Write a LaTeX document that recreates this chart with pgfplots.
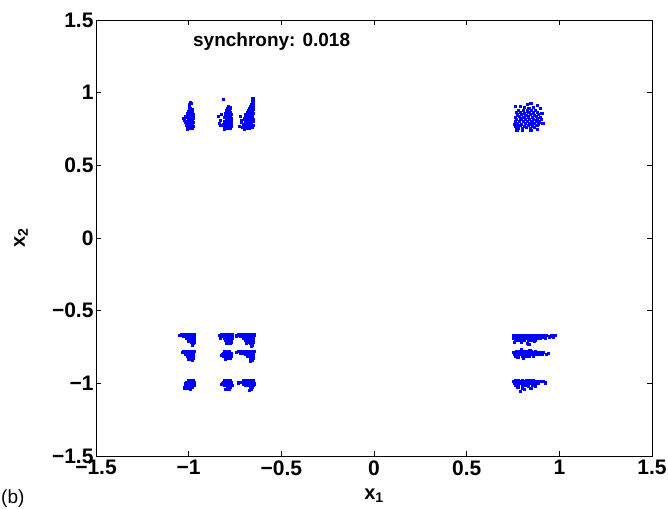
\documentclass[border=0pt]{standalone}
\usepackage{fontspec}
\setmainfont{Liberation Sans}
\usepackage{pgfplots}
\pgfplotsset{compat=1.18}
\pgfplotsset{dots/.style={only marks, mark=square*, mark size=1.1pt, color=blue, mark options={draw=none, fill=blue}}}

\begin{document}
\begin{tikzpicture}
\begin{axis}[
  at={(0,0)}, anchor=south west,
  scale only axis, width=556pt, height=436pt,
  xmin=-1.5, xmax=1.5, ymin=-1.5, ymax=1.5,
  xtick={-1.5,-1,-0.5,0,0.5,1,1.5},
  ytick={-1.5,-1,-0.5,0,0.5,1,1.5},
  xticklabels={−1.5,−1,−0.5,0,0.5,1,1.5},
  yticklabels={−1.5,−1,−0.5,0,0.5,1,1.5},
  tick align=inside, major tick length=5pt,
  axis line style={black, line width=0.9pt},
  every tick/.style={black, line width=0.6pt},
  ticklabel style={font=\fontsize{21}{23}\selectfont\bfseries},
  xticklabel style={yshift=-1pt},
  yticklabel style={xshift=1pt},
  xlabel={x\textsubscript{1}},
  ylabel={x\textsubscript{2}},
  xlabel style={font=\fontsize{20}{22}\selectfont\bfseries, at={(axis description cs:0.5,-0.1)}, anchor=base},
  ylabel style={font=\fontsize{20}{22}\selectfont\bfseries, at={(axis description cs:-0.128,0.5)}, anchor=base},
  clip=false,
]
% top row, x1 < 0
\addplot[dots] coordinates {
(-1.010,0.752)(-0.995,0.755)(-0.980,0.758)
(-1.005,0.765)(-0.988,0.768)(-0.976,0.772)
(-1.012,0.778)(-0.997,0.781)(-0.983,0.784)
(-1.003,0.791)(-0.990,0.794)(-0.977,0.797)
(-1.009,0.804)(-0.994,0.807)(-0.981,0.810)
(-1.001,0.817)(-0.986,0.820)(-0.975,0.823)
(-1.011,0.830)(-0.996,0.833)(-0.982,0.836)
(-1.004,0.843)(-0.989,0.846)(-0.978,0.849)
(-1.008,0.856)(-0.993,0.859)(-0.980,0.862)
(-1.000,0.869)(-0.987,0.872)
(-0.995,0.880)(-0.983,0.885)
(-0.991,0.893)(-0.999,0.902)
(-1.025,0.812)(-1.030,0.826)(-1.020,0.838)(-1.018,0.800)
(-0.996,0.918)(-0.986,0.925)(-0.992,0.936)
};
\addplot[dots] coordinates {
(-0.808,0.752)(-0.792,0.756)(-0.776,0.759)
(-0.800,0.766)(-0.785,0.770)(-0.770,0.773)
(-0.811,0.779)(-0.795,0.783)(-0.780,0.786)
(-0.803,0.793)(-0.788,0.797)(-0.773,0.800)
(-0.809,0.806)(-0.793,0.810)(-0.778,0.813)
(-0.799,0.820)(-0.784,0.824)(-0.771,0.827)
(-0.806,0.833)(-0.790,0.837)(-0.776,0.840)
(-0.801,0.847)(-0.786,0.851)(-0.772,0.854)
(-0.804,0.861)(-0.789,0.865)(-0.777,0.868)
(-0.796,0.876)(-0.782,0.880)
(-0.791,0.889)(-0.779,0.896)(-0.786,0.905)
(-0.835,0.790)(-0.828,0.774)(-0.840,0.836)(-0.826,0.852)(-0.832,0.808)
(-0.815,0.955)
};
\addplot[dots] coordinates {
(-0.700,0.751)(-0.686,0.754)(-0.672,0.757)(-0.658,0.760)
(-0.694,0.765)(-0.680,0.768)(-0.665,0.771)(-0.651,0.774)
(-0.703,0.779)(-0.689,0.782)(-0.675,0.785)(-0.661,0.788)
(-0.697,0.793)(-0.683,0.796)(-0.668,0.799)(-0.654,0.802)
(-0.691,0.807)(-0.677,0.810)(-0.663,0.813)(-0.650,0.816)
(-0.699,0.821)(-0.684,0.824)(-0.670,0.827)(-0.656,0.830)
(-0.688,0.835)(-0.674,0.838)(-0.660,0.841)
(-0.693,0.849)(-0.679,0.852)(-0.665,0.855)(-0.652,0.858)
(-0.684,0.863)(-0.670,0.866)(-0.657,0.869)
(-0.676,0.877)(-0.662,0.880)(-0.650,0.884)
(-0.671,0.891)(-0.658,0.895)
(-0.666,0.904)(-0.655,0.910)
(-0.661,0.920)(-0.652,0.928)(-0.658,0.938)(-0.650,0.948)(-0.655,0.958)
(-0.728,0.770)(-0.716,0.812)(-0.722,0.840)(-0.712,0.760)(-0.718,0.795)
};
% top row, x1 > 0
\addplot[dots] coordinates {
(0.775,0.758)(0.798,0.755)(0.821,0.761)(0.843,0.756)(0.866,0.760)
(0.764,0.772)(0.786,0.775)(0.809,0.770)(0.832,0.774)(0.855,0.771)(0.878,0.776)
(0.771,0.788)(0.795,0.785)(0.817,0.790)(0.840,0.787)(0.862,0.791)(0.884,0.786)
(0.760,0.803)(0.782,0.806)(0.806,0.801)(0.828,0.805)(0.851,0.802)(0.873,0.807)(0.893,0.800)
(0.768,0.818)(0.791,0.821)(0.814,0.816)(0.836,0.820)(0.859,0.817)(0.881,0.822)
(0.763,0.833)(0.785,0.836)(0.808,0.831)(0.831,0.835)(0.854,0.832)(0.876,0.837)(0.897,0.830)
(0.772,0.848)(0.796,0.851)(0.819,0.846)(0.842,0.850)(0.864,0.847)(0.886,0.852)
(0.767,0.863)(0.789,0.866)(0.812,0.861)(0.835,0.865)(0.857,0.862)(0.879,0.867)
(0.779,0.878)(0.803,0.881)(0.826,0.876)(0.849,0.880)(0.870,0.877)
(0.760,0.905)(0.790,0.908)(0.812,0.902)(0.826,0.920)(0.860,0.900)(0.880,0.915)
(0.895,0.895)(0.905,0.860)(0.770,0.745)(0.800,0.742)(0.845,0.744)(0.880,0.750)
(0.756,0.785)(0.900,0.820)(0.835,0.892)(0.910,0.790)(0.845,0.930)
};
% bottom block, x1 < 0
\addplot[dots] coordinates {
(-0.968,-0.665)(-0.982,-0.665)(-0.996,-0.665)(-1.010,-0.665)(-1.024,-0.665)(-1.038,-0.665)
(-0.972,-0.677)(-0.986,-0.677)(-1.000,-0.677)(-1.014,-0.677)(-1.028,-0.677)
(-0.970,-0.689)(-0.984,-0.689)(-0.998,-0.689)(-1.012,-0.689)
(-0.974,-0.701)(-0.988,-0.701)(-1.002,-0.701)
(-0.971,-0.713)(-0.985,-0.713)
(-0.976,-0.725)
(-1.050,-0.671)(-0.982,-0.735)(-1.000,-0.712)
};
\addplot[dots] coordinates {
(-0.766,-0.665)(-0.780,-0.665)(-0.794,-0.665)(-0.808,-0.665)(-0.822,-0.665)
(-0.770,-0.677)(-0.784,-0.677)(-0.798,-0.677)(-0.812,-0.677)(-0.826,-0.677)
(-0.768,-0.689)(-0.782,-0.689)(-0.796,-0.689)(-0.810,-0.689)
(-0.772,-0.701)(-0.786,-0.701)(-0.800,-0.701)
(-0.769,-0.713)(-0.783,-0.713)
(-0.778,-0.725)
(-0.836,-0.670)(-0.795,-0.722)(-0.830,-0.690)
};
\addplot[dots] coordinates {
(-0.648,-0.665)(-0.662,-0.665)(-0.676,-0.665)(-0.690,-0.665)(-0.704,-0.665)(-0.718,-0.665)(-0.732,-0.665)
(-0.652,-0.677)(-0.666,-0.677)(-0.680,-0.677)(-0.694,-0.677)(-0.708,-0.677)(-0.722,-0.677)
(-0.650,-0.689)(-0.664,-0.689)(-0.678,-0.689)(-0.692,-0.689)(-0.706,-0.689)
(-0.654,-0.701)(-0.668,-0.701)(-0.682,-0.701)(-0.696,-0.701)
(-0.651,-0.713)(-0.665,-0.713)(-0.679,-0.713)
(-0.656,-0.725)(-0.670,-0.725)
(-0.660,-0.737)
(-0.742,-0.672)(-0.664,-0.745)(-0.690,-0.722)
};
\addplot[dots] coordinates {
(-0.972,-0.778)(-0.986,-0.778)(-1.000,-0.778)(-1.014,-0.778)(-1.028,-0.778)
(-0.976,-0.790)(-0.990,-0.790)(-1.004,-0.790)(-1.018,-0.790)
(-0.974,-0.802)(-0.988,-0.802)(-1.002,-0.802)(-1.016,-0.802)
(-0.978,-0.814)(-0.992,-0.814)(-1.006,-0.814)
(-0.975,-0.826)(-0.989,-0.826)
(-0.982,-0.838)
(-1.036,-0.784)(-1.000,-0.832)
};
\addplot[dots] coordinates {
(-0.780,-0.778)(-0.794,-0.778)(-0.808,-0.778)
(-0.772,-0.790)(-0.786,-0.790)(-0.800,-0.790)(-0.814,-0.790)
(-0.776,-0.802)(-0.790,-0.802)(-0.804,-0.802)(-0.818,-0.802)
(-0.770,-0.814)(-0.784,-0.814)(-0.798,-0.814)(-0.811,-0.814)
(-0.778,-0.826)(-0.792,-0.826)
(-0.805,-0.836)(-0.822,-0.808)
};
\addplot[dots] coordinates {
(-0.648,-0.778)(-0.662,-0.778)(-0.676,-0.778)(-0.690,-0.778)(-0.704,-0.778)(-0.718,-0.778)(-0.732,-0.778)
(-0.652,-0.790)(-0.666,-0.790)(-0.680,-0.790)(-0.694,-0.790)(-0.708,-0.790)(-0.722,-0.790)
(-0.650,-0.802)(-0.664,-0.802)(-0.678,-0.802)(-0.692,-0.802)
(-0.654,-0.814)(-0.668,-0.814)(-0.682,-0.814)
(-0.651,-0.826)(-0.665,-0.826)
(-0.658,-0.838)
(-0.742,-0.785)(-0.670,-0.846)
};
\addplot[dots] coordinates {
(-0.975,-0.978)(-0.989,-0.978)(-1.003,-0.978)
(-0.972,-0.990)(-0.986,-0.990)(-1.000,-0.990)(-1.014,-0.990)
(-0.976,-1.002)(-0.990,-1.002)(-1.004,-1.002)(-1.018,-1.002)
(-0.973,-1.014)(-0.987,-1.014)(-1.001,-1.014)(-1.013,-1.014)
(-0.982,-1.026)(-0.996,-1.026)
(-1.008,-1.036)(-1.024,-1.030)(-0.990,-1.042)
};
\addplot[dots] coordinates {
(-0.778,-0.978)(-0.792,-0.978)(-0.806,-0.978)
(-0.770,-0.990)(-0.784,-0.990)(-0.798,-0.990)(-0.812,-0.990)
(-0.774,-1.002)(-0.788,-1.002)(-0.802,-1.002)(-0.816,-1.002)
(-0.768,-1.014)(-0.782,-1.014)(-0.796,-1.014)(-0.810,-1.014)
(-0.776,-1.026)(-0.790,-1.026)
(-0.800,-1.038)(-0.824,-1.008)(-0.780,-1.040)
};
\addplot[dots] coordinates {
(-0.650,-0.978)(-0.664,-0.978)(-0.678,-0.978)(-0.692,-0.978)(-0.706,-0.978)
(-0.652,-0.990)(-0.666,-0.990)(-0.680,-0.990)(-0.694,-0.990)(-0.708,-0.990)(-0.722,-0.990)
(-0.649,-1.002)(-0.663,-1.002)(-0.677,-1.002)(-0.691,-1.002)(-0.705,-1.002)
(-0.653,-1.014)(-0.667,-1.014)(-0.681,-1.014)(-0.695,-1.014)
(-0.656,-1.026)(-0.670,-1.026)
(-0.662,-1.038)
(-0.732,-0.996)(-0.672,-1.046)
};
% bottom block, x1 > 0
\addplot[dots] coordinates {
(0.752,-0.667)(0.768,-0.667)(0.784,-0.667)(0.800,-0.667)(0.816,-0.667)(0.832,-0.667)
(0.848,-0.667)(0.864,-0.667)(0.880,-0.667)(0.896,-0.667)(0.912,-0.667)(0.930,-0.667)
(0.756,-0.679)(0.772,-0.679)(0.788,-0.679)(0.804,-0.679)(0.820,-0.679)(0.836,-0.679)
(0.852,-0.679)(0.868,-0.679)(0.884,-0.679)(0.900,-0.679)(0.918,-0.679)(0.945,-0.679)
(0.750,-0.691)(0.766,-0.691)(0.782,-0.691)(0.798,-0.691)(0.814,-0.691)(0.830,-0.691)
(0.846,-0.691)(0.862,-0.691)(0.878,-0.691)(0.895,-0.691)
(0.760,-0.703)(0.778,-0.703)(0.795,-0.703)(0.812,-0.703)(0.830,-0.703)(0.850,-0.703)(0.870,-0.703)
(0.757,-0.718)(0.795,-0.715)(0.828,-0.722)(0.865,-0.712)(0.958,-0.672)(0.975,-0.668)
(0.965,-0.680)(0.925,-0.692)(0.835,-0.732)
};
\addplot[dots] coordinates {
(0.770,-0.778)(0.790,-0.778)(0.810,-0.778)(0.828,-0.778)(0.848,-0.778)(0.868,-0.778)
(0.752,-0.788)(0.768,-0.788)(0.784,-0.788)(0.800,-0.788)(0.816,-0.788)(0.832,-0.788)
(0.848,-0.788)(0.864,-0.788)(0.880,-0.788)(0.898,-0.788)(0.915,-0.788)
(0.756,-0.800)(0.772,-0.800)(0.788,-0.800)(0.804,-0.800)(0.820,-0.800)(0.836,-0.800)
(0.852,-0.800)(0.868,-0.800)(0.884,-0.800)(0.905,-0.800)(0.930,-0.800)
(0.762,-0.811)(0.780,-0.811)(0.800,-0.811)(0.818,-0.811)(0.838,-0.811)(0.858,-0.811)
(0.775,-0.822)(0.805,-0.825)(0.795,-0.768)(0.840,-0.770)(0.940,-0.795)
};
\addplot[dots] coordinates {
(0.760,-0.977)(0.780,-0.977)(0.800,-0.977)(0.820,-0.977)(0.840,-0.977)(0.860,-0.977)
(0.750,-0.988)(0.766,-0.988)(0.782,-0.988)(0.798,-0.988)(0.814,-0.988)(0.830,-0.988)
(0.846,-0.988)(0.862,-0.988)(0.878,-0.988)(0.895,-0.988)(0.912,-0.988)
(0.756,-1.000)(0.772,-1.000)(0.788,-1.000)(0.804,-1.000)(0.820,-1.000)(0.836,-1.000)
(0.852,-1.000)(0.868,-1.000)(0.885,-1.000)
(0.762,-1.012)(0.780,-1.012)(0.798,-1.012)(0.816,-1.012)(0.834,-1.012)(0.852,-1.012)
(0.775,-1.025)(0.800,-1.030)(0.812,-1.040)(0.790,-1.052)(0.830,-1.022)(0.845,-1.035)
(0.925,-0.995)(0.870,-1.018)
};
\node[anchor=base west, inner sep=0pt, font=\fontsize{19}{21}\selectfont\bfseries]
  at (axis cs:-0.977,1.32) {synchrony: 0.018};
\end{axis}
\node[anchor=base west, inner sep=0pt, font=\fontsize{19}{21}\selectfont] at (-95pt,-47pt) {(b)};
\pgfresetboundingbox
\path (-96pt,-52pt) rectangle (572pt,456pt);
\end{tikzpicture}
\end{document}
